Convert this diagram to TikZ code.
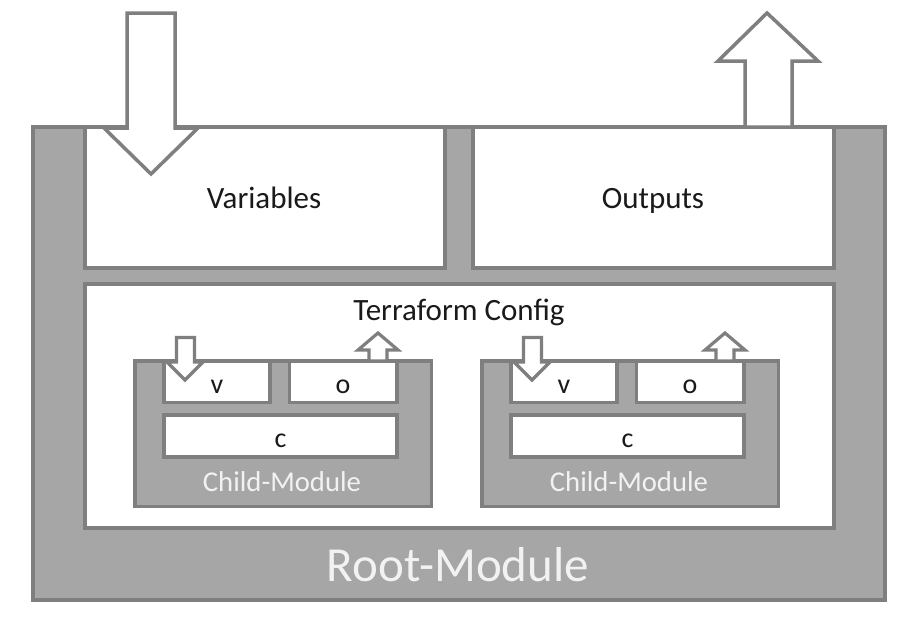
\documentclass[tikz,border=0pt]{standalone}
\usepackage{fontspec}
\setmainfont{Carlito}
\definecolor{fillg}{HTML}{A6A6A6}
\definecolor{lineg}{HTML}{7F7F7F}
\definecolor{txt}{HTML}{1A1A1A}
\definecolor{ltxt}{HTML}{F2F2F2}
\begin{document}
\begin{tikzpicture}[x=1pt,y=-1pt,
  graybox/.style={draw=lineg,fill=fillg,line width=4pt,inner sep=0pt,outer sep=0pt},
  whitebox/.style={draw=lineg,fill=white,line width=4pt,inner sep=0pt,outer sep=0pt},
  childbox/.style={draw=lineg,fill=fillg,line width=3.5pt,inner sep=0pt,outer sep=0pt},
  smallbox/.style={draw=lineg,fill=white,line width=3.5pt,inner sep=0pt,outer sep=0pt},
  bigarrow/.style={draw=lineg,fill=white,line width=3.5pt,line join=miter},
  smallarrow/.style={draw=lineg,fill=white,line width=3.2pt,line join=miter},
  lbl/.style={text=txt,font=\fontsize{31}{37}\selectfont,anchor=base,inner sep=0pt},
  smalllbl/.style={text=txt,font=\fontsize{28}{34}\selectfont,anchor=base,inner sep=0pt},
  childlbl/.style={text=ltxt,font=\fontsize{28.7}{34}\selectfont,anchor=base,inner sep=0pt},
  rootlbl/.style={text=ltxt,font=\fontsize{49}{58}\selectfont,anchor=base,inner sep=0pt}]
\useasboundingbox (0,0) rectangle (916,627);
\fill[white] (0,0) rectangle (916,627);

% root module
\node[graybox,minimum width=852pt,minimum height=473pt] (root) at (459,363.5) {};
\node[whitebox,minimum width=360.5pt,minimum height=140.5pt] (vars) at (264.75,197.25) {};
\node[whitebox,minimum width=360.5pt,minimum height=140.5pt] (outs) at (653.25,197.25) {};
\node[whitebox,minimum width=749pt,minimum height=244pt] (cfg) at (459,406) {};
\node[lbl] (varst) at (264,208) {Variables};
\node[lbl] (outst) at (653,208) {Outputs};
\node[lbl] (cfgt) at (459,320) {Terraform Config};
\node[rootlbl] (roott) at (458,581) {Root-Module};

% big arrows
\draw[bigarrow] (127,13) -- (175,13) -- (175,128) -- (198,128) -- (151,174)
  -- (104,128) -- (127,128) -- cycle;
\draw[bigarrow] (745,127) -- (745,61) -- (718,61) -- (767,13) -- (818,61)
  -- (792,61) -- (792,127) -- cycle;

% child modules
\foreach \dx/\n in {0/a,347/b}{
  \begin{scope}[xshift=\dx pt]
    \node[childbox,minimum width=296.5pt,minimum height=145.5pt] (child\n) at (283.25,433.75) {};
    \node[smallbox,minimum width=106pt,minimum height=41.5pt] (v\n) at (217,381.75) {};
    \node[smallbox,minimum width=107.5pt,minimum height=41.5pt] (o\n) at (343.25,381.75) {};
    \node[smallbox,minimum width=233pt,minimum height=42pt] (c\n) at (280.5,436) {};
    \node[smalllbl] (vt\n) at (217,393) {v};
    \node[smalllbl] (ot\n) at (343,393) {o};
    \node[smalllbl] (ct\n) at (280.5,447) {c};
    \node[childlbl] (childt\n) at (282,491) {Child-Module};
    \draw[smallarrow] (176.5,337.5) -- (194.5,337.5) -- (194.5,362) -- (203,362)
      -- (185,380) -- (167,362) -- (176.5,362) -- cycle;
    \draw[smallarrow] (369,361) -- (369,350) -- (358,350) -- (378,333) -- (398,350)
      -- (387,350) -- (387,361) -- cycle;
  \end{scope}
}
\end{tikzpicture}
\end{document}
